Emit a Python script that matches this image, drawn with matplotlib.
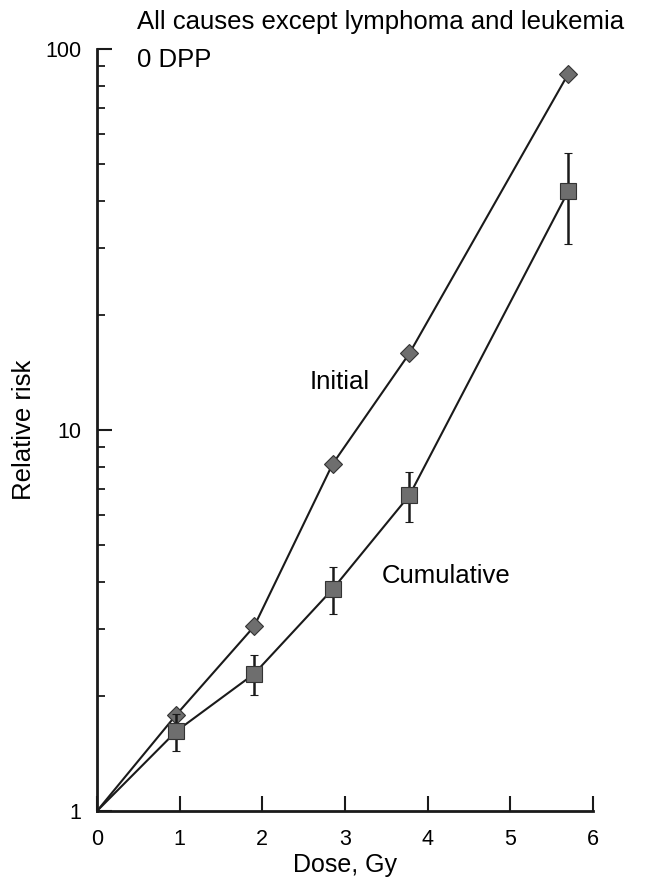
import matplotlib
matplotlib.use('Agg')
import matplotlib.pyplot as plt
from matplotlib.ticker import LogLocator, NullFormatter, FixedLocator

plt.rcParams['font.family'] = ['Liberation Sans', 'DejaVu Sans']

dose = [0, 0.96, 1.90, 2.85, 3.78, 5.70]
initial_rr = [1, 1.79, 3.05, 8.14, 15.9, 86.0]
cumulative_rr = [1, 1.62, 2.29, 3.82, 6.74, 42.3]
cumulative_lo = [1, 1.44, 2.01, 3.28, 5.73, 30.7]
cumulative_hi = [1, 1.80, 2.57, 4.38, 7.75, 53.3]

x_ticks = [0, 1, 2, 3, 4, 5, 6]
y_ticks = [1, 10, 100]
y_ticklabels = ['1', '10', '100']

fig = plt.figure(figsize=(6.64, 8.81), dpi=100)
ax = fig.add_axes([97 / 664, 1 - 811 / 881, 496 / 664, 762 / 881])

ink = '#1a1a1a'
fill = '#6e6e6e'

ax.plot(dose, initial_rr, color=ink, lw=1.5, zorder=2)
ax.plot(dose[1:], initial_rr[1:], ls='none', marker='D', ms=9.5,
        mfc=fill, mec='#333333', mew=0.8, zorder=3)

yerr = [[c - l for c, l in zip(cumulative_rr[1:], cumulative_lo[1:])],
        [h - c for c, h in zip(cumulative_rr[1:], cumulative_hi[1:])]]
ax.plot(dose, cumulative_rr, color=ink, lw=1.5, zorder=2)
ax.errorbar(dose[1:], cumulative_rr[1:], yerr=yerr, fmt='s', ms=11,
            mfc=fill, mec='#333333', mew=0.8, ecolor=ink, elinewidth=1.8,
            capsize=3.2, capthick=1.6, zorder=3)

ax.set_yscale('log')
ax.set_xlim(0, 6)
ax.set_ylim(1, 100)
ax.xaxis.set_major_locator(FixedLocator(x_ticks))
ax.yaxis.set_major_locator(FixedLocator(y_ticks))
ax.set_yticklabels(y_ticklabels)
ax.yaxis.set_minor_locator(LogLocator(base=10, subs=range(2, 10)))
ax.yaxis.set_minor_formatter(NullFormatter())

for s in ['top', 'right']:
    ax.spines[s].set_visible(False)
for s in ['left', 'bottom']:
    ax.spines[s].set_linewidth(2)
    ax.spines[s].set_color(ink)

ax.tick_params(axis='both', which='major', direction='in', length=11,
               width=1.5, labelsize=15.5, color=ink)
ax.tick_params(axis='x', pad=13)
ax.tick_params(axis='y', pad=11)
ax.tick_params(axis='y', which='minor', direction='in', length=6, width=1.3,
               color=ink)

ax.set_xlabel('Dose, Gy', fontsize=18, labelpad=2)
ax.set_ylabel('Relative risk', fontsize=18.5, labelpad=7)

fig.text(137 / 664, 1 - 22 / 881, 'All causes except lymphoma and leukemia',
         fontsize=18.5, va='center', ha='left')
fig.text(137 / 664, 1 - 60 / 881, '0 DPP', fontsize=18.5, va='center', ha='left')

ax.text(2.94, 13.4, 'Initial', fontsize=18.5, ha='center', va='center')
ax.text(4.22, 4.13, 'Cumulative', fontsize=18.5, ha='center', va='center')

fig.savefig('out.png', dpi=100)
